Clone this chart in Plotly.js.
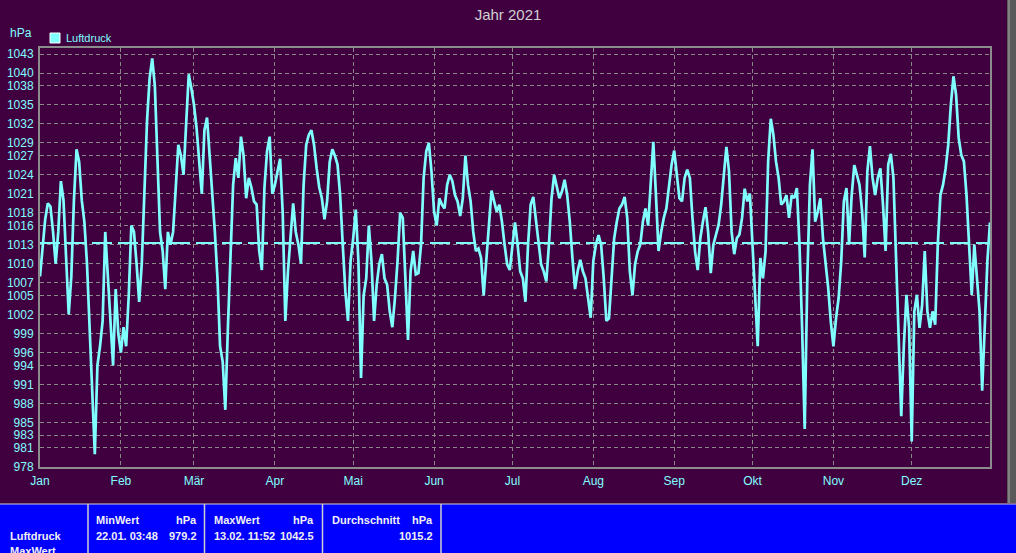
<!DOCTYPE html>
<html>
<head>
<meta charset="utf-8">
<script src="https://cdn.plot.ly/plotly-3.0.1.min.js"></script>
<style>
html,body{margin:0;padding:0;background:#400040;}
#chart{width:1016px;height:553px;}
</style>
</head>
<body>
<div id="chart"></div>
<script>
// ---- Daten ----
const jahr = 2021;
const luftdruck = [
1008, 1012, 1017, 1019.5, 1019, 1015, 1010, 1015, 1023, 1020,
1012, 1002, 1008, 1020, 1028, 1026, 1020, 1016.6, 1010, 1000,
992, 980, 994, 997, 1001, 1015, 1008, 1000, 994, 1006,
999, 996, 1000, 997, 1005, 1016, 1015, 1010, 1004, 1010,
1022, 1032.4, 1039.2, 1042.3, 1038, 1026, 1015, 1012, 1006, 1015,
1013, 1015, 1022.4, 1028.7, 1027, 1024, 1032, 1039.8, 1037.6, 1035,
1031.3, 1026, 1021, 1031, 1033, 1027, 1021.4, 1015, 1007.7, 997,
994.6, 987, 1000, 1013, 1022.4, 1026.6, 1023.5, 1030, 1027, 1020.3,
1023.5, 1022, 1019.8, 1019.3, 1012, 1009, 1022, 1027.7, 1030, 1021,
1022.4, 1024.5, 1026.5, 1018, 1001, 1008.8, 1015, 1019.5, 1015, 1013,
1010, 1022.4, 1028.7, 1030.3, 1031, 1028.7, 1025, 1022, 1020.3, 1017,
1019.8, 1026, 1028, 1027, 1025.6, 1020.8, 1013, 1005.6, 1001, 1010.4,
1014, 1018.5, 1010.4, 992, 1005, 1007.7, 1016, 1010.4, 1001, 1006.7,
1010, 1011.5, 1007.7, 1006.7, 1002.5, 1000, 1004.6, 1010.4, 1018, 1017.2,
1007.7, 998, 1008.8, 1012, 1008.3, 1008.5, 1013, 1023.5, 1027.7, 1029,
1024.5, 1018.2, 1016, 1020.3, 1019.3, 1018.7, 1022.4, 1024, 1023, 1020.8,
1019.8, 1017.5, 1020.3, 1027, 1022.4, 1019.8, 1015, 1012, 1012.4, 1010.9,
1005, 1010.9, 1017.2, 1021.5, 1019.8, 1018.2, 1019.3, 1016.6, 1013, 1009.9,
1009, 1013, 1016.5, 1013, 1008.8, 1007.7, 1004, 1013, 1019.3, 1020.5,
1017.2, 1014, 1009.9, 1008.8, 1007.2, 1013, 1020.3, 1024, 1022, 1020.3,
1021.4, 1023.2, 1020.8, 1016.6, 1010.9, 1006, 1008.8, 1010.6, 1008.8, 1007.7,
1004.6, 1001.5, 1010.4, 1013, 1014.5, 1013, 1007.7, 1001, 1001.4, 1007.7,
1014, 1016.6, 1018.7, 1019.3, 1020.5, 1017.2, 1008.8, 1005, 1009.9, 1011.9,
1013, 1016.6, 1018.7, 1016, 1023.5, 1029.2, 1020.8, 1012, 1015, 1017.2,
1018.7, 1022.4, 1025.6, 1027.8, 1024.5, 1020.3, 1019.8, 1023.5, 1024.8, 1023.5,
1017.2, 1011.9, 1009, 1014, 1016.6, 1018.9, 1015, 1008.5, 1013, 1014.6,
1016.1, 1019.3, 1024.5, 1028.4, 1024.5, 1015, 1011.5, 1014, 1014.6, 1017.2,
1021.8, 1019.8, 1021, 1013, 1005.1, 997, 1010.9, 1007.7, 1011.9, 1026.1,
1032.8, 1030.3, 1026.1, 1023.5, 1019.3, 1019.8, 1020.8, 1017.2, 1020.8, 1020.3,
1021.9, 1013, 1000, 984, 1007.7, 1022.4, 1028, 1016.6, 1018.2, 1020.3,
1014, 1010.4, 1006.2, 1000.9, 997, 1001.4, 1004.6, 1010.4, 1019.8, 1021.9,
1013, 1020.8, 1025.5, 1024, 1022.4, 1018.2, 1011, 1024.5, 1028.5, 1023.5,
1020.8, 1023.5, 1025, 1019.3, 1012, 1025.6, 1027.3, 1023.5, 1010.4, 999.9,
986, 997.2, 1005.1, 999.9, 982, 1002.5, 1005.1, 999.9, 1003.5, 1012,
1002.5, 999.9, 1002.5, 1000.4, 1013, 1020.8, 1022.4, 1025, 1028.7, 1035,
1039.5, 1036.6, 1029.8, 1027.1, 1026.1, 1020.8, 1013, 1005.1, 1013, 1007.7,
1002.5, 990, 999.9, 1010.4, 1016.5
];
const monatsStart = ['2021-01-01','2021-02-01','2021-03-01','2021-04-01','2021-05-01','2021-06-01',
                     '2021-07-01','2021-08-01','2021-09-01','2021-10-01','2021-11-01','2021-12-01'];
const monatsNamen = ['Jan','Feb','Mär','Apr','Mai','Jun','Jul','Aug','Sep','Okt','Nov','Dez'];
const yTicks = [978,981,983,985,988,991,994,996,999,1002,1005,1007,1010,1013,1016,1018,1021,1024,1027,1029,1032,1035,1038,1040,1043];
const normDruck = 1013.25;
const tabKopf = ['MinWert','MaxWert','Durchschnitt'];
const tabZeit = ['22.01. 03:48','13.02. 11:52',''];
const tabWert = ['979.2','1042.5','1015.2'];

// ---- Aufbau ----
const datum = luftdruck.map((v,i)=>new Date(Date.UTC(jahr,0,1+i)).toISOString().slice(0,10));

const L=40, R=990, T=48, B=467;
const px = x => (x-L)/(R-L);
const py = y => (B-y)/(B-T);

const cyan='#80ffff';
const fTick = {family:'"Liberation Sans Narrow","Liberation Sans",Arial,sans-serif', size:12, color:cyan};
const fTab = {family:'"Liberation Sans",Arial,sans-serif', size:11, color:'#f0f0f0'};

const shapes = [
  {type:'line', xref:'paper', yref:'y', x0:0, x1:1, y0:normDruck, y1:normDruck,
   line:{color:cyan, width:2, dash:'20px,6px'}},
  // Legende
  {type:'rect', xref:'paper', yref:'paper', x0:px(50), x1:px(60), y0:py(43), y1:py(33),
   fillcolor:cyan, line:{color:'#ffffff', width:1}},
  // Tabelle
  {type:'rect', xref:'paper', yref:'paper', x0:px(0), x1:px(1016), y0:py(560), y1:py(504),
   fillcolor:'#0000ff', line:{width:0}, layer:'above'},
  {type:'line', xref:'paper', yref:'paper', x0:px(0), x1:px(1016), y0:py(504), y1:py(504),
   line:{color:'#d0d0d0', width:1}},
  // rechter Rand
  {type:'rect', xref:'paper', yref:'paper', x0:px(1007), x1:px(1016), y0:py(503), y1:py(0),
   fillcolor:'#5a5a5a', line:{width:0}},
  {type:'line', xref:'paper', yref:'paper', x0:px(1009), x1:px(1009), y0:py(503), y1:py(0),
   line:{color:'#a8a8a8', width:1}}
];
[88, 204.5, 322.5, 441].forEach(x=>{
  shapes.push({type:'line', xref:'paper', yref:'paper', x0:px(x), x1:px(x), y0:py(560), y1:py(504),
    line:{color:'#d0d0d0', width:1.5}, layer:'above'});
});

const ann = [
  {text:'hPa', xref:'paper', yref:'paper', x:px(21), y:py(33), xanchor:'center', yanchor:'middle',
   showarrow:false, font:{family:fTick.family, size:12, color:cyan}},
  {text:'Luftdruck', xref:'paper', yref:'paper', x:px(64), y:py(38), xanchor:'left', yanchor:'middle',
   showarrow:false, font:{family:'"Liberation Sans",Arial,sans-serif', size:11, color:cyan}},
  {text:'<b>Luftdruck</b>', xref:'paper', yref:'paper', x:px(8), y:py(536), xanchor:'left', yanchor:'middle',
   showarrow:false, font:fTab},
  {text:'<b>MaxWert</b>', xref:'paper', yref:'paper', x:px(8), y:py(551), xanchor:'left', yanchor:'middle',
   showarrow:false, font:fTab}
];
const zellen = [[94,199],[212,316],[330,435]];
zellen.forEach((z,i)=>{
  ann.push({text:'<b>'+tabKopf[i]+'</b>', xref:'paper', yref:'paper', x:px(z[0]), y:py(520), xanchor:'left', yanchor:'middle', showarrow:false, font:fTab});
  ann.push({text:'<b>hPa</b>', xref:'paper', yref:'paper', x:px(z[1]), y:py(520), xanchor:'right', yanchor:'middle', showarrow:false, font:fTab});
  if (tabZeit[i]) ann.push({text:'<b>'+tabZeit[i]+'</b>', xref:'paper', yref:'paper', x:px(z[0]), y:py(536), xanchor:'left', yanchor:'middle', showarrow:false, font:fTab});
  ann.push({text:'<b>'+tabWert[i]+'</b>', xref:'paper', yref:'paper', x:px(z[1]), y:py(536), xanchor:'right', yanchor:'middle', showarrow:false, font:fTab});
});

const trace = {
  x: datum, y: luftdruck, type:'scatter', mode:'lines', name:'Luftdruck',
  line:{color:cyan, width:2.7}, showlegend:false, hoverinfo:'x+y'
};

const layout = {
  width:1016, height:553,
  margin:{l:L, r:1016-R, t:T, b:553-B, pad:0},
  paper_bgcolor:'#400040', plot_bgcolor:'#400040',
  title:{text:'Jahr 2021', x:0.5, xref:'container', xanchor:'center', y:1-15/553, yref:'container', yanchor:'middle',
         font:{family:'"Liberation Sans",Arial,sans-serif', size:15, color:'#d0d0d0'}},
  showlegend:false,
  xaxis:{type:'date', range:['2021-01-01','2021-12-31'], tickmode:'array', tickvals:monatsStart, ticktext:monatsNamen,
         showgrid:true, gridcolor:'#8a8a8a', gridwidth:1, griddash:'4px,3px',
         showline:true, mirror:true, linecolor:'#8c8c8c', linewidth:2, zeroline:false,
         ticks:'', tickfont:fTick, ticklabelstandoff:2, fixedrange:true},
  yaxis:{range:[978, 1043.95], tickmode:'array', tickvals:yTicks, ticktext:yTicks.map(String),
         showgrid:true, gridcolor:'#8a8a8a', gridwidth:1, griddash:'4px,3px',
         showline:true, mirror:true, linecolor:'#8c8c8c', linewidth:2, zeroline:false,
         ticks:'', tickfont:fTick, ticklabelstandoff:2, fixedrange:true},
  shapes:shapes, annotations:ann
};

Plotly.newPlot('chart', [trace], layout, {displayModeBar:false, staticPlot:true});
</script>
</body>
</html>
